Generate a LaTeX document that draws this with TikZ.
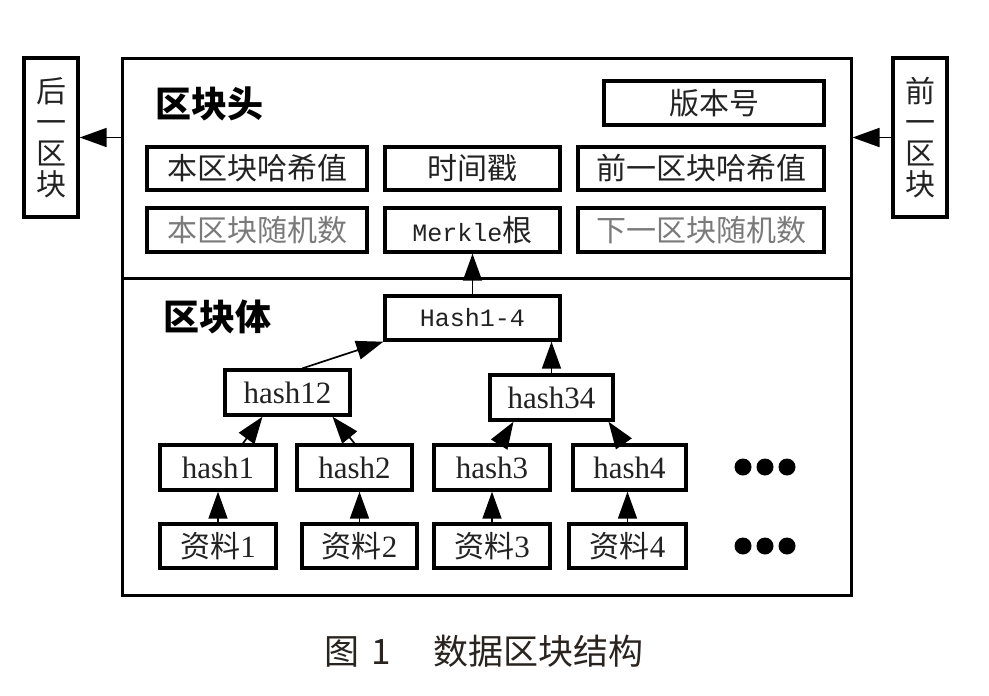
\documentclass[tikz,border=0pt]{standalone}
\usepackage{fontspec}
\setmainfont{Liberation Serif}
\newfontfamily\cjk{Noto Sans CJK SC}
\newfontfamily\monof{Liberation Mono}
\usetikzlibrary{arrows.meta,calc}
\definecolor{txt}{HTML}{222222}
\definecolor{graytxt}{HTML}{7A7A7A}
\definecolor{captxt}{HTML}{2A2420}
\begin{document}
\begin{tikzpicture}[x=1pt,y=-1pt,
  box/.style={draw=black, line width=3.4pt, inner sep=0pt, text=txt, font=\cjk\fontsize{30}{31}\selectfont},
  lat/.style={box, font=\rmfamily\fontsize{31}{32}\selectfont},
  arr/.style={-{Triangle[length=27pt,width=19pt]}, line width=1.7pt},
  ttl/.style={inner sep=0pt, text=black, font=\cjk\bfseries\fontsize{36}{38}\selectfont}
]
\useasboundingbox (0,0) rectangle (989,696);
% outer frame
\node[draw=black, line width=3pt, minimum width=729, minimum height=537, inner sep=0pt] (main) at (486.5,326.5) {};
\coordinate (divl) at (122,278);
\coordinate (divr) at (851,278);
\draw[line width=3pt] (divl) -- (divr);
% side blocks
\node[box, minimum width=54, minimum height=159, align=center] (lft) at (51,137.5) {后\\一\\区\\块};
\node[box, minimum width=54, minimum height=159, align=center] (rgt) at (920,137.5) {前\\一\\区\\块};
% titles
\node[ttl, anchor=west] (head) at (155,104) {区块头};
\node[ttl, anchor=west] (body) at (163,317) {区块体};
% header fields
\node[box, minimum width=220, minimum height=44] (ver) at (714,103) {版本号};
\node[box, minimum width=220, minimum height=43] (bhash) at (257,168.5) {本区块哈希值};
\node[box, minimum width=175, minimum height=43] (time) at (472.5,168.5) {时间戳};
\node[box, minimum width=246, minimum height=43] (phash) at (701,168.5) {前一区块哈希值};
\node[box, minimum width=220, minimum height=44, text=graytxt] (bnonce) at (257,230) {本区块随机数};
\node[box, minimum width=175, minimum height=44] (mk) at (472.5,230) {{\monof\fontsize{25}{30}\selectfont Merkle}根};
\node[box, minimum width=246, minimum height=44, text=graytxt] (nnonce) at (701,230) {下一区块随机数};
% merkle tree
\node[box, minimum width=175, minimum height=44] (h14) at (472.5,318) {\monof\fontsize{25}{30}\selectfont Hash1-4};
\node[lat, minimum width=125, minimum height=45] (h12) at (287.5,392.5) {hash12};
\node[lat, minimum width=123, minimum height=45] (h34) at (551.5,397.5) {hash34};
\node[lat, minimum width=116, minimum height=45] (h1) at (218,467.5) {hash1};
\node[lat, minimum width=115, minimum height=45] (h2) at (354.5,467.5) {hash2};
\node[lat, minimum width=116, minimum height=45] (h3) at (492,467.5) {hash3};
\node[lat, minimum width=113, minimum height=45] (h4) at (629.5,467.5) {hash4};
\node[box, minimum width=116, minimum height=44] (d1) at (218,546) {资料{\rmfamily\fontsize{31}{32}\selectfont 1}};
\node[box, minimum width=115, minimum height=44] (d2) at (359.5,546) {资料{\rmfamily\fontsize{31}{32}\selectfont 2}};
\node[box, minimum width=116, minimum height=44] (d3) at (492,546) {资料{\rmfamily\fontsize{31}{32}\selectfont 3}};
\node[box, minimum width=117, minimum height=44] (d4) at (627.5,546) {资料{\rmfamily\fontsize{31}{32}\selectfont 4}};
% dots
\foreach \xx in {743,765,787}{
  \fill (\xx,467) circle (8.5);
  \fill (\xx,546) circle (8.5);
}
% connectors
\draw[arr] (main.west |- lft.east) -- (lft.east);
\draw[arr] (rgt.west) -- (main.east |- rgt.west);
\draw[arr] (h14.north) -- (mk.south);
\draw[arr] ([xshift=15pt]h12.north) -- (h14.south west);
\draw[arr] (h34.north) -- (h14.south -| h34.north);
\draw[arr] ([xshift=25pt]h1.north) -- ([xshift=-25pt]h12.south);
\draw[arr] (h2.north) -- ([xshift=45pt]h12.south);
\draw[arr] ([xshift=8pt]h3.north) -- ([xshift=-38pt]h34.south);
\draw[arr] ([xshift=-6pt]h4.north) -- ([xshift=57pt]h34.south);
\draw[arr] (d1.north) -- (h1.south);
\draw[arr] (d2.north) -- (h2.south -| d2.north);
\draw[arr] (d3.north) -- (h3.south);
\draw[arr] (d4.north) -- (h4.south -| d4.north);
% caption
\node[inner sep=0pt, text=captxt, font=\cjk\fontsize{35}{38}\selectfont] (cap) at (484,651) {图\hspace{12pt}1\hspace{42pt}数据区块结构};
\end{tikzpicture}
\end{document}
